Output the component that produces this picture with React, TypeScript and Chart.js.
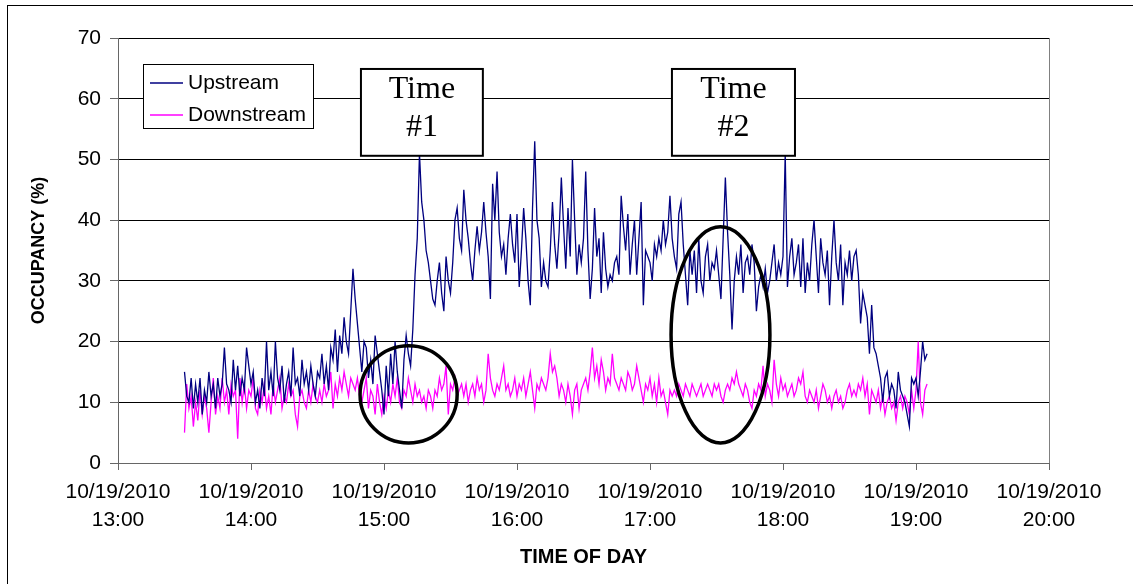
import React, { useEffect, useRef } from "react";
import { Chart, registerables } from "chart.js";

Chart.register(...registerables);

// ---- data ----
const START_MINUTE = 30; // first sample, minutes after 13:00
const DATE_LABEL = "10/19/2010";
const FIRST_HOUR = 13;
const X_MIN = 0;
const X_MAX = 420;
const Y_MIN = 0;
const Y_MAX = 70;
const SERIES_NAMES = ["Upstream", "Downstream"];
const SERIES_COLORS = ["#000080", "#FF00FF"];
const X_TITLE = "TIME OF DAY";
const Y_TITLE = "OCCUPANCY (%)";

const upstream = [
  15, 11, 10, 14, 9, 13, 10, 14, 8, 12,
  10, 15, 11, 13, 9, 14, 11, 13, 19, 13,
  12, 10, 17, 12, 16, 11, 14, 12, 19, 16,
  13, 15, 10, 12, 9, 14, 11, 20, 12, 15,
  11, 20, 14, 12, 16, 10, 13, 15, 11, 19,
  13, 14, 11, 17, 13,
  15, 12, 16, 13, 11,
  15, 14, 18, 13, 16, 12, 19, 17, 22, 15,
  21, 18, 24, 20, 18, 25, 32, 27, 23, 19,
  15, 20, 19, 14, 17, 13, 21, 18, 15, 12,
  8, 16, 11, 18, 13, 20, 15, 12, 9, 17,
  21, 18, 16, 22, 31, 37, 51, 43, 40, 35,
  33,
  30, 27, 26, 30, 33, 28, 25, 34, 30,
  28, 33, 40, 42, 37, 35, 45, 40, 37, 33,
  30, 35, 39, 35, 38, 43, 38, 34, 27, 46,
  40, 48, 38, 34, 36, 31, 37, 41, 36, 33,
  41, 29, 35, 42, 37, 30, 26, 42, 53, 40,
  37, 29, 33, 30, 29, 35, 43,
  36, 32, 38,
  47, 39, 32, 42, 34, 50, 40, 31, 36, 33,
  37, 48, 35, 27, 32, 42, 34, 37, 28, 38,
  32, 29, 31, 30, 33, 34, 31, 44, 39, 35,
  41, 31, 36, 40, 31, 37, 43, 26, 35, 34,
  33, 30, 36, 34, 37, 35, 40, 36, 38, 44,
  37, 34, 32, 41,
  43, 36, 31, 26, 35, 31,
  35, 28, 37, 30, 28, 34, 36, 30, 33, 32,
  35, 31, 27, 37, 47, 38, 31, 22, 30, 34,
  31, 36, 28, 33, 34, 31, 36, 33, 25, 29,
  31, 29, 32, 28, 30, 33, 36, 30, 33, 31,
  34, 51, 29, 34, 37, 31, 33, 36, 29, 37,
  28, 33, 30, 36, 40, 34, 28, 37, 33, 31,
  35, 26, 34, 40, 33, 30, 36, 26, 33, 31,
  35, 30, 34, 35, 31, 23, 28, 26, 24, 18,
  26, 19, 18, 16, 14, 10, 14, 15, 11, 13,
  12, 9, 15, 12, 11, 10, 8, 6, 14, 13,
  14, 11, 15, 20, 17, 18,
];

const downstream = [
  5, 13, 9, 11, 6, 10, 7, 12, 8, 11,
  9, 5, 10, 14, 8, 11, 9, 14, 10, 12,
  8, 13, 11, 12, 4, 14, 10, 13, 9, 12,
  11, 14, 9, 8, 12, 10, 13, 9, 11, 8,
  13, 10, 12, 14, 9, 11, 10, 13, 11, 12,
  8, 6, 11, 12, 10,
  9, 12, 10, 13, 11,
  10, 12, 10, 13, 11, 12, 15, 9, 13, 11,
  14, 12, 15, 13, 11, 14, 13, 12, 14, 11,
  10, 12, 14, 9, 12, 11, 8, 13, 10, 8,
  11, 9, 12, 10, 13, 11, 14, 10, 9, 12,
  11, 14, 12, 10, 13, 11, 12, 10, 11, 9,
  12,
  11, 9, 12, 11, 14, 12, 13, 16, 8,
  13, 12, 14, 11, 12, 13, 11, 13, 10, 12,
  13, 11, 14, 12, 13, 10, 12, 18, 14, 12,
  11, 13, 12, 14, 16, 12, 13, 11, 12, 14,
  11, 13, 12, 14, 11, 13, 15, 12, 9, 13,
  12, 14, 13, 12, 14, 18, 15,
  16, 14, 11,
  13, 12, 10, 13, 11, 8, 12, 13, 9, 12,
  13, 14, 12, 15, 19, 14, 16, 13, 17, 15,
  12, 14, 13, 18, 14, 13, 12, 14, 13, 12,
  15, 14, 12, 13, 16, 14, 12, 10, 13, 12,
  14, 11, 13, 10, 14, 11, 12, 10, 8, 12,
  11, 12, 11, 13,
  12, 11, 13, 12, 11, 13,
  12, 11, 12, 13, 11, 12, 13, 12, 11, 13,
  12, 13, 11, 10, 12, 13, 12, 14, 13, 15,
  13, 12, 11, 13, 12, 10, 9, 12, 11, 13,
  12, 16, 11, 13, 12, 10, 17, 13, 11, 14,
  12, 13, 11, 12, 13, 11, 12, 14, 13, 15,
  11, 10, 12, 11, 10, 12, 9, 11, 13, 12,
  10, 11, 9, 11, 12, 10, 11, 9, 10, 12,
  13, 11, 12, 11, 13, 12, 14, 11, 13, 8,
  12, 11, 10, 12, 9, 11, 8, 10, 11, 9,
  10, 7, 10, 11, 9, 11, 10, 8, 12, 9,
  12, 20, 10, 8, 12, 13,
];

// callout boxes (data units: minutes after 13:00, occupancy %)
const CALLOUT_TEXT = [["Time", "#1"], ["Time", "#2"]];
const CALLOUT_X0 = [109.6, 249.9];
const CALLOUT_X1 = [164.6, 305.4];
const CALLOUT_Y_TOP = 64.9;
const CALLOUT_Y_BOTTOM = 50.6;

// ellipses (data units)
const ELLIPSE_CX = [131.1, 271.8];
const ELLIPSE_CY = [11.3, 21.1];
const ELLIPSE_RX = [21.9, 22.3];
const ELLIPSE_RY = [8.0, 17.8];

const SANS = "'Liberation Sans', Arial, sans-serif";
const SERIF = "'Liberation Serif', 'Times New Roman', serif";

const toPoints = (arr: number[]) =>
  arr.map((v, i) => ({ x: START_MINUTE + i, y: v }));

const decorPlugin = {
  id: "decor",
  beforeDraw(chart: any) {
    const { ctx, width, height } = chart;
    ctx.save();
    ctx.fillStyle = "#ffffff";
    ctx.fillRect(0, 0, width, height);
    ctx.strokeStyle = "#000";
    ctx.lineWidth = 1;
    ctx.strokeRect(7.5, 5.5, width + 20, height + 20);
    ctx.restore();
  },
  beforeDatasetsDraw(chart: any) {
    const { ctx, chartArea } = chart;
    ctx.save();
    ctx.strokeStyle = "#808080";
    ctx.lineWidth = 1;
    ctx.beginPath();
    ctx.moveTo(Math.round(chartArea.right) + 0.5, chartArea.top);
    ctx.lineTo(Math.round(chartArea.right) + 0.5, chartArea.bottom);
    ctx.stroke();
    ctx.restore();
  },
  afterDatasetsDraw(chart: any) {
    const { ctx, scales } = chart;
    const xs = scales.x;
    const ys = scales.y;
    ctx.save();
    // ellipses
    ctx.strokeStyle = "#000";
    ctx.lineWidth = 3.5;
    for (let i = 0; i < ELLIPSE_CX.length; i++) {
      const cx = xs.getPixelForValue(ELLIPSE_CX[i]);
      const cy = ys.getPixelForValue(ELLIPSE_CY[i]);
      const rx = xs.getPixelForValue(ELLIPSE_CX[i] + ELLIPSE_RX[i]) - cx;
      const ry = cy - ys.getPixelForValue(ELLIPSE_CY[i] + ELLIPSE_RY[i]);
      ctx.beginPath();
      ctx.ellipse(cx, cy, rx, ry, 0, 0, Math.PI * 2);
      ctx.stroke();
    }
    // callout boxes
    for (let i = 0; i < CALLOUT_TEXT.length; i++) {
      const x0 = xs.getPixelForValue(CALLOUT_X0[i]);
      const x1 = xs.getPixelForValue(CALLOUT_X1[i]);
      const y0 = ys.getPixelForValue(CALLOUT_Y_TOP);
      const y1 = ys.getPixelForValue(CALLOUT_Y_BOTTOM);
      ctx.fillStyle = "#fff";
      ctx.fillRect(x0, y0, x1 - x0, y1 - y0);
      ctx.strokeStyle = "#000";
      ctx.lineWidth = 2;
      ctx.strokeRect(x0, y0, x1 - x0, y1 - y0);
      ctx.fillStyle = "#000";
      ctx.font = `32px ${SERIF}`;
      ctx.textAlign = "center";
      ctx.textBaseline = "alphabetic";
      const cx = (x0 + x1) / 2;
      ctx.fillText(CALLOUT_TEXT[i][0], cx, y0 + 29.5);
      ctx.fillText(CALLOUT_TEXT[i][1], cx, y0 + 67);
    }
    // legend
    const lx = 143, ly = 64, lw = 170, lh = 64;
    ctx.fillStyle = "#fff";
    ctx.fillRect(lx, ly, lw, lh);
    ctx.strokeStyle = "#000";
    ctx.lineWidth = 1;
    ctx.strokeRect(lx + 0.5, ly + 0.5, lw, lh);
    chart.data.datasets.forEach((ds: any, i: number) => {
      const yy = ly + 19 + i * 32;
      ctx.strokeStyle = ds.borderColor;
      ctx.lineWidth = 1.3;
      ctx.beginPath();
      ctx.moveTo(lx + 7, yy);
      ctx.lineTo(lx + 40, yy);
      ctx.stroke();
      ctx.fillStyle = "#000";
      ctx.font = `21px ${SANS}`;
      ctx.textAlign = "left";
      ctx.textBaseline = "middle";
      ctx.fillText(ds.label, lx + 45, yy);
    });
    ctx.restore();
  },
};

export default function App() {
  const canvasRef = useRef<HTMLCanvasElement | null>(null);

  useEffect(() => {
    if (!canvasRef.current) return;
    const chart = new Chart(canvasRef.current, {
      type: "line",
      data: {
        datasets: [
          {
            label: SERIES_NAMES[0],
            data: toPoints(upstream),
            borderColor: SERIES_COLORS[0],
            backgroundColor: SERIES_COLORS[0],
            borderWidth: 1.3,
            pointRadius: 0,
            tension: 0,
          },
          {
            label: SERIES_NAMES[1],
            data: toPoints(downstream),
            borderColor: SERIES_COLORS[1],
            backgroundColor: SERIES_COLORS[1],
            borderWidth: 1.3,
            pointRadius: 0,
            tension: 0,
          },
        ],
      },
      options: {
        animation: false,
        responsive: true,
        maintainAspectRatio: false,
        parsing: false as any,
        normalized: true,
        layout: { padding: { left: 0, top: 38, right: 84, bottom: 0 } },
        plugins: {
          legend: { display: false },
          tooltip: { enabled: false },
        },
        scales: {
          x: {
            type: "linear",
            min: X_MIN,
            max: X_MAX,
            afterFit: (s: any) => {
              s.height = 121;
            },
            border: { display: true, color: "#666", width: 1 },
            grid: {
              drawOnChartArea: false,
              drawTicks: true,
              tickLength: 7,
              tickColor: "#666",
            },
            ticks: {
              stepSize: 60,
              autoSkip: false,
              maxRotation: 0,
              padding: 9,
              color: "#000",
              font: { family: SANS, size: 21, lineHeight: 1.3 },
              callback: (v: any) => [DATE_LABEL, `${FIRST_HOUR + Number(v) / 60}:00`],
            },
            title: {
              display: true,
              text: X_TITLE,
              color: "#000",
              font: { family: SANS, size: 20, weight: "bold" },
              padding: { top: 0, bottom: 15 },
            },
          },
          y: {
            min: Y_MIN,
            max: Y_MAX,
            afterFit: (s: any) => {
              s.width = 118;
            },
            border: { display: true, color: "#666", width: 1 },
            grid: {
              color: "#000",
              lineWidth: 1,
              drawTicks: true,
              tickLength: 8,
              tickColor: "#666",
            },
            ticks: {
              stepSize: 10,
              padding: 9,
              color: "#000",
              font: { family: SANS, size: 21 },
            },
            title: {
              display: true,
              text: Y_TITLE,
              color: "#000",
              font: { family: SANS, size: 18, weight: "bold" },
              padding: { top: 28, bottom: 0 },
            },
          },
        },
      },
      plugins: [decorPlugin],
    });
    return () => chart.destroy();
  }, []);

  return (
    <div style={{ position: "absolute", left: 0, top: 0, width: 1133, height: 584 }}>
      <canvas ref={canvasRef} />
    </div>
  );
}
